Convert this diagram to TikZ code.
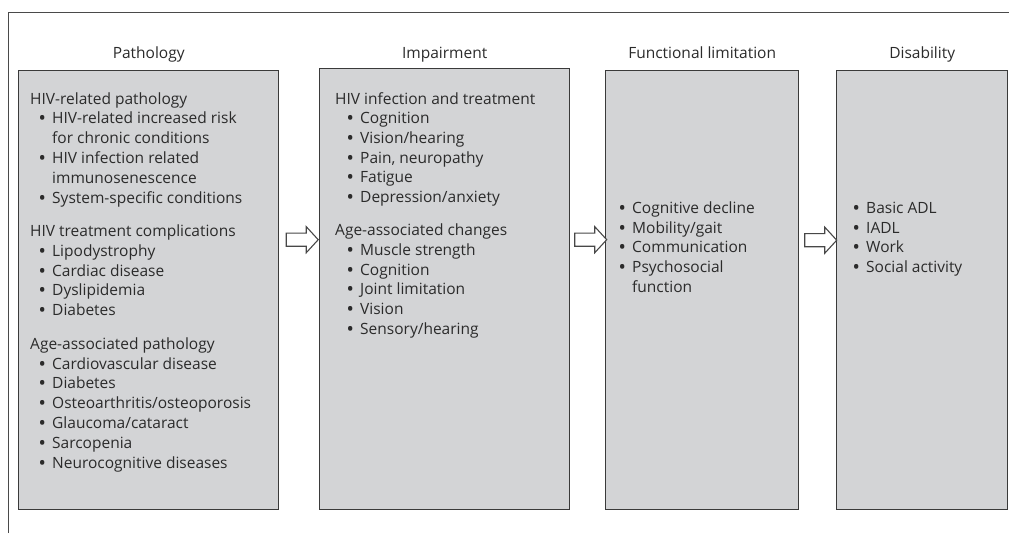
\documentclass[tikz,border=0pt]{standalone}
\usepackage{fontspec}
\setmainfont{Open Sans}
\usetikzlibrary{calc,shapes.arrows}
\definecolor{boxfill}{HTML}{D3D4D6}
\definecolor{boxline}{HTML}{3A3A3A}
\definecolor{ink}{HTML}{2B2B2B}
\definecolor{frameline}{HTML}{4A4A4A}
\definecolor{arrowline}{HTML}{474747}
% bullet set to the left of the item text
\newcommand\bul{\llap{\makebox[20pt][c]{\bfseries •}}}
\begin{document}
\begin{tikzpicture}[x=1pt,y=-1pt,
  stage/.style={draw=boxline, line width=1.4pt, fill=boxfill, anchor=north west, inner sep=0pt},
  title/.style={anchor=base, text=ink, inner sep=0pt, font=\fontsize{15.5}{19}\selectfont},
  txt/.style={anchor=base west, text=ink, inner sep=0pt, font=\fontsize{15.5}{19}\selectfont},
  flow/.style={single arrow, draw=arrowline, fill=white, line width=1.1pt,
    minimum height=32pt, inner xsep=0pt, inner ysep=6pt,
    single arrow head extend=6.5pt, single arrow tip angle=95}]
\useasboundingbox (0,0) rectangle (1009,533);

% outer frame
\draw[frameline, line width=1pt] (8.5,533) -- (8.5,12.5) -- (1009,12.5);

% stage boxes
\node[stage, minimum width=260pt, minimum height=439pt] (path) at (18,70) {};
\node[stage, minimum width=250pt, minimum height=441pt] (imp)  at (319,68) {};
\node[stage, minimum width=193pt, minimum height=439pt] (func) at (605,70) {};
\node[stage, minimum width=171pt, minimum height=439pt] (dis)  at (836,70) {};

% stage titles
\node[title] (t1) at (path.north |- 0,58) {Pathology};
\node[title] (t2) at (imp.north |- 0,58) {Impairment};
\node[title] (t3) at (func.north |- 0,58) {Functional limitation};
\node[title] (t4) at (dis.north |- 0,58) {Disability};

% block arrows between stages
\node[flow] (a1) at ($(path.east)!0.5!(imp.west) + (0,-50)$) {};
\node[flow] (a2) at ($(imp.east)!0.5!(func.west) + (0,-50)$) {};
\node[flow] (a3) at ($(func.east)!0.5!(dis.west) + (0,-50)$) {};

% Pathology
\node[txt] (p1)  at (30,104)   {HIV-related pathology};
\node[txt] (p2)  at (52,123.8) {\bul HIV-related increased risk};
\node[txt] (p3)  at (52,143.6) {for chronic conditions};
\node[txt] (p4)  at (52,163.4) {\bul HIV infection related};
\node[txt] (p5)  at (52,183.2) {immunosenescence};
\node[txt] (p6)  at (52,203)   {\bul System-specific conditions};
\node[txt] (p7)  at (30,236.5) {HIV treatment complications};
\node[txt] (p8)  at (52,256.3) {\bul Lipodystrophy};
\node[txt] (p9)  at (52,276.1) {\bul Cardiac disease};
\node[txt] (p10) at (52,295.9) {\bul Dyslipidemia};
\node[txt] (p11) at (52,315.7) {\bul Diabetes};
\node[txt] (p12) at (30,349.2) {Age-associated pathology};
\node[txt] (p13) at (52,369)   {\bul Cardiovascular disease};
\node[txt] (p14) at (52,388.8) {\bul Diabetes};
\node[txt] (p15) at (52,408.6) {\bul Osteoarthritis/osteoporosis};
\node[txt] (p16) at (52,428.4) {\bul Glaucoma/cataract};
\node[txt] (p17) at (52,448.2) {\bul Sarcopenia};
\node[txt] (p18) at (52,468)   {\bul Neurocognitive diseases};

% Impairment
\node[txt] (i1)  at (335,104)   {HIV infection and treatment};
\node[txt] (i2)  at (360,123.7) {\bul Cognition};
\node[txt] (i3)  at (360,143.4) {\bul Vision/hearing};
\node[txt] (i4)  at (360,163.1) {\bul Pain, neuropathy};
\node[txt] (i5)  at (360,182.8) {\bul Fatigue};
\node[txt] (i6)  at (360,202.5) {\bul Depression/anxiety};
\node[txt] (i7)  at (335,235.7) {Age-associated changes};
\node[txt] (i8)  at (360,255.4) {\bul Muscle strength};
\node[txt] (i9)  at (360,275.1) {\bul Cognition};
\node[txt] (i10) at (360,294.8) {\bul Joint limitation};
\node[txt] (i11) at (360,314.5) {\bul Vision};
\node[txt] (i12) at (360,334.2) {\bul Sensory/hearing};

% Functional limitation
\node[txt] (f1) at (632,213.5) {\bul Cognitive decline};
\node[txt] (f2) at (632,233.2) {\bul Mobility/gait};
\node[txt] (f3) at (632,252.9) {\bul Communication};
\node[txt] (f4) at (632,272.6) {\bul Psychosocial};
\node[txt] (f5) at (632,292.3) {function};

% Disability
\node[txt] (d1) at (866,213.5) {\bul Basic ADL};
\node[txt] (d2) at (866,233.2) {\bul IADL};
\node[txt] (d3) at (866,252.9) {\bul Work};
\node[txt] (d4) at (866,272.6) {\bul Social activity};
\end{tikzpicture}
\end{document}
